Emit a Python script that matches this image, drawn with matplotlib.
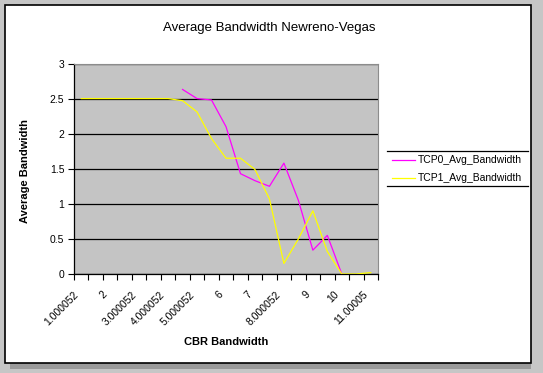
import numpy as np
import matplotlib.pyplot as plt
import matplotlib.transforms as mtransforms
from matplotlib.lines import Line2D
from matplotlib.patches import Rectangle

plt.rcParams['font.family'] = ['Liberation Sans', 'DejaVu Sans']

# CBR bandwidth categories (every 0.5)
cbr = [1.0, 1.5, 2.0, 2.5, 3.0, 3.5, 4.0, 4.5, 5.0, 5.5, 6.0,
       6.5, 7.0, 7.5, 8.0, 8.5, 9.0, 9.5, 10.0, 10.5, 11.0]
tick_labels = ['1.000052', '2', '3.000052', '4.000052', '5.000052', '6',
               '7', '8.000052', '9', '10', '11.00005']
nan = np.nan
tcp0 = [nan, nan, nan, nan, nan, nan, nan, 2.63, 2.5, 2.48, 2.1,
        1.43, 1.33, 1.25, 1.58, 1.05, 0.34, 0.55, 0.0, nan, nan]
tcp1 = [2.5, 2.5, 2.5, 2.5, 2.5, 2.5, 2.5, 2.47, 2.31, 1.93, 1.65,
        1.65, 1.49, 1.07, 0.15, 0.5, 0.9, 0.32, 0.0, 0.0, 0.02]
series_names = ['TCP0_Avg_Bandwidth', 'TCP1_Avg_Bandwidth']
series_colors = ['#ff00ff', '#ffff00']

W, H = 543, 373
fig = plt.figure(figsize=(W / 100, H / 100), dpi=100)
fig.patch.set_facecolor('#c6c6c6')

def fx(px):
    return px / W

def fy(py):
    return 1 - py / H

# chart frame with shadow
fig.add_artist(Rectangle((fx(10), fy(369)), fx(531) - fx(10), fy(10) - fy(369),
                         transform=fig.transFigure, facecolor='#9a9a9a', edgecolor='none', zorder=0))
fig.add_artist(Rectangle((fx(5), fy(363)), fx(531) - fx(5), fy(5) - fy(363),
                         transform=fig.transFigure, facecolor='white', edgecolor='black', lw=1.2, zorder=0))

ax = fig.add_axes([fx(74), fy(274), fx(378) - fx(74), fy(63.5) - fy(274)])
ax.set_facecolor('#c4c4c4')

x = np.array(cbr)
ax.plot(x, tcp0, color=series_colors[0], lw=0.9, zorder=3)
ax.plot(x, tcp1, color=series_colors[1], lw=0.9, zorder=3)

ax.set_xlim(0.75, 11.25)
ax.set_ylim(0, 3)
ax.set_yticks(np.arange(0, 3.01, 0.5))
ax.set_yticklabels(['0', '0.5', '1', '1.5', '2', '2.5', '3'])
ax.yaxis.grid(True, color='black', lw=0.9)
ax.set_axisbelow(True)

ax.set_xticks(np.arange(1, 12, 1))
ax.set_xticklabels(tick_labels, rotation=45, ha='right', va='top', rotation_mode='anchor')
ax.set_xticks(np.arange(0.75, 11.3, 0.5), minor=True)
ax.tick_params(axis='x', which='major', length=0, pad=11, labelsize=7.5)
ax.tick_params(axis='x', which='minor', length=4, width=0.8, direction='out')
ax.tick_params(axis='y', length=4, width=0.8, direction='out', labelsize=7.5, pad=3)
shift = mtransforms.ScaledTranslation(-8 / 100, 0, fig.dpi_scale_trans)
for lab in ax.get_xticklabels():
    lab.set_transform(lab.get_transform() + shift)

for s in ['left', 'bottom']:
    ax.spines[s].set_color('black')
    ax.spines[s].set_linewidth(0.9)
for s in ['top', 'right']:
    ax.spines[s].set_color('#8c8c8c')
    ax.spines[s].set_linewidth(0.8)

fig.text(fx(269), fy(28), 'Average Bandwidth Newreno-Vegas', ha='center', va='center', fontsize=9.5)
fig.text(fx(226), fy(342), 'CBR Bandwidth', ha='center', va='center', fontsize=8, fontweight='bold')
fig.text(fx(25), fy(171), 'Average Bandwidth', ha='center', va='center', fontsize=8,
         fontweight='bold', rotation=90)

# legend
fig.add_artist(Line2D([fx(387), fx(528)], [fy(151), fy(151)], transform=fig.transFigure, color='black', lw=0.9))
fig.add_artist(Line2D([fx(387), fx(528)], [fy(186), fy(186)], transform=fig.transFigure, color='black', lw=0.9))
for i, (name, col) in enumerate(zip(series_names, series_colors)):
    yy = fy(160 + i * 18)
    fig.add_artist(Line2D([fx(392), fx(415)], [yy, yy], transform=fig.transFigure, color=col, lw=0.9))
    fig.text(fx(418), yy, name, ha='left', va='center', fontsize=7.5)

fig.savefig('out.png', dpi=100)
